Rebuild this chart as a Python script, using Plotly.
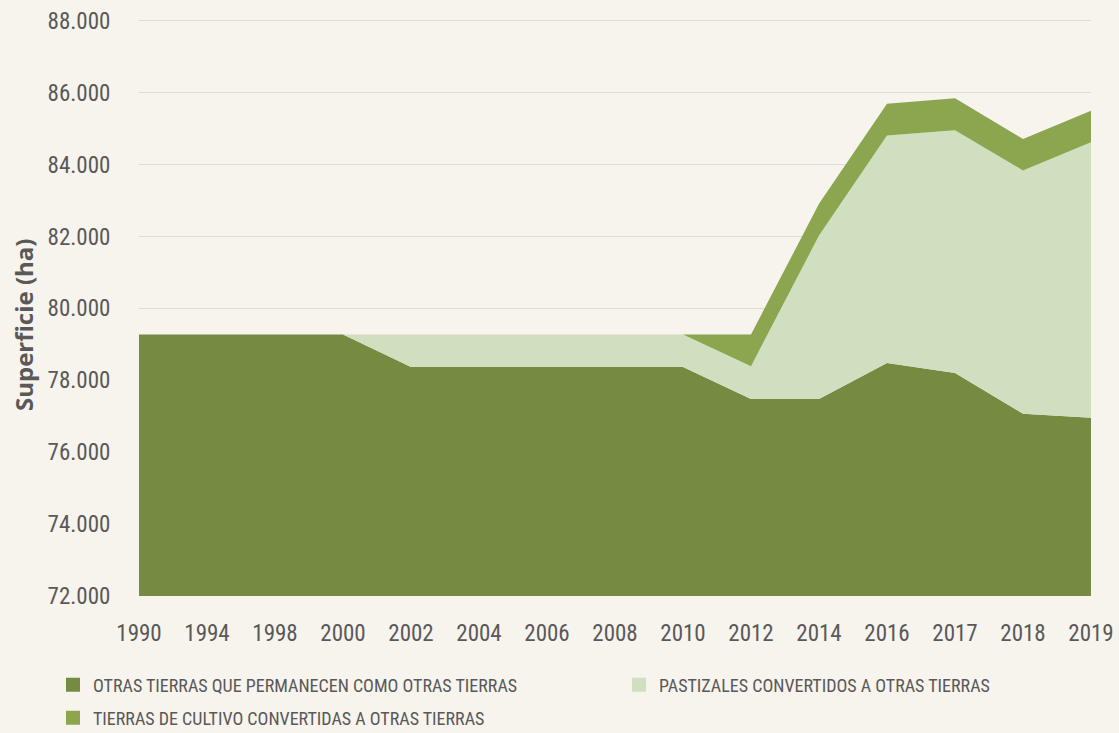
import plotly.graph_objects as go

years = ["1990", "1994", "1998", "2000", "2002", "2004", "2006", "2008",
         "2010", "2012", "2014", "2016", "2017", "2018", "2019"]

otras = [79275, 79275, 79275, 79275, 78371, 78371, 78371, 78371,
         78371, 77478, 77478, 78483, 78204, 77071, 76960]
pastizales = [0, 0, 0, 0, 904, 904, 904, 904,
              904, 913, 4547, 6323, 6750, 6767, 7659]
cultivo = [0, 0, 0, 0, 0, 0, 0, 0,
           0, 884, 884, 884, 893, 876, 876]

names = ["OTRAS TIERRAS QUE PERMANECEN COMO OTRAS TIERRAS",
         "PASTIZALES CONVERTIDOS A OTRAS TIERRAS",
         "TIERRAS DE CULTIVO CONVERTIDAS A OTRAS TIERRAS"]
colors = ["#748b41", "#d0dfbf", "#8ba64f"]
series = [otras, pastizales, cultivo]

FONT = "Roboto Condensed, DejaVu Sans Condensed, sans-serif"
TXT = "#595959"

# plot area in page pixels (body margin removed below)
L, T, W, H = 139, 19, 952, 577
YMIN, YMAX = 72000, 88050

fig = go.Figure()
for nm, col, vals in zip(names, colors, series):
    fig.add_trace(go.Scatter(
        x=years, y=vals, name=nm, stackgroup="one", mode="lines",
        line=dict(width=0, color=col), fillcolor=col, showlegend=False,
        hoverinfo="x+y+name",
    ))

legend_ids = ["legend", "legend2", "legend3"]
for nm, col, lid in zip(names, colors, legend_ids):
    fig.add_trace(go.Scatter(
        x=[None], y=[None], name=nm, mode="markers",
        marker=dict(symbol="square", size=14, color=col),
        showlegend=True, legend=lid,
    ))


def leg(xpx, ypx):
    return dict(
        x=(xpx - L) / W, y=(T + H - ypx) / H, xanchor="left", yanchor="middle",
        xref="paper", yref="paper", orientation="h",
        font=dict(family=FONT, size=18, color=TXT),
        bgcolor="rgba(0,0,0,0)", itemwidth=30,
    )


fig.update_layout(
    width=1119, height=733,
    margin=dict(l=L, r=1119 - L - W, t=T, b=733 - T - H, autoexpand=False),
    paper_bgcolor="#f7f3ed", plot_bgcolor="#f7f3ed",
    separators=",.",
    font=dict(family=FONT, size=22, color=TXT),
    xaxis=dict(
        type="category", range=[0, 14], showgrid=False, zeroline=False,
        showline=False, ticks="outside", ticklen=16, tickcolor="rgba(0,0,0,0)",
        tickfont=dict(family=FONT, size=23, color=TXT),
    ),
    yaxis=dict(
        range=[YMIN, YMAX], tick0=72000, dtick=2000, tickformat=",d",
        showgrid=True, gridcolor="#dcdcdc", gridwidth=1.2, zeroline=False,
        showline=False, ticks="outside", ticklen=23, tickcolor="rgba(0,0,0,0)",
        tickfont=dict(family=FONT, size=23, color=TXT),
        ticklabeloverflow="allow",
    ),
    legend=leg(53, 685),
    legend2=leg(619, 685),
    legend3=leg(53, 718),
    showlegend=True,
    annotations=[dict(
        text="<b>Superficie (ha)</b>", textangle=-90, showarrow=False,
        xref="paper", yref="paper", x=(23 - L) / W, y=(T + H - 325) / H,
        xanchor="center", yanchor="middle",
        font=dict(family="Open Sans, sans-serif", size=24, color=TXT),
    )],
)

fig.write_html(
    "out.html",
    config={"displayModeBar": False},
    post_script="document.body.style.margin='0';document.body.style.overflow='hidden';",
)
